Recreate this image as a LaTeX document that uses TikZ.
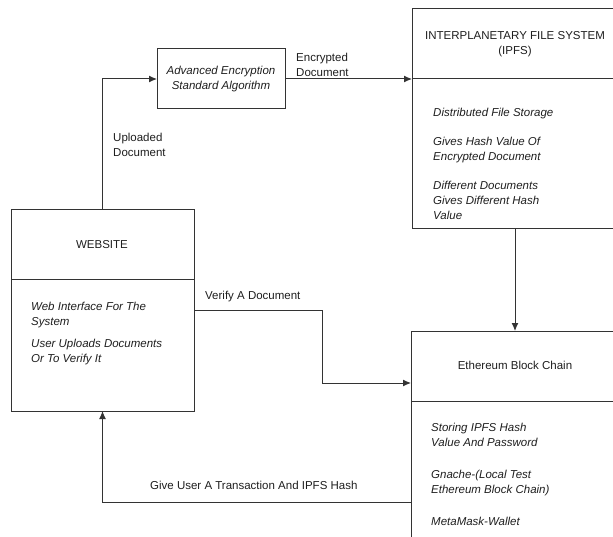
\documentclass[tikz,border=0pt]{standalone}
\usepackage{fontspec}
\setmainfont{Liberation Sans}
\usetikzlibrary{arrows.meta,calc}
\definecolor{linec}{HTML}{333333}
\definecolor{textc}{HTML}{1E1E1E}
\begin{document}
\begin{tikzpicture}[x=1pt,y=-1pt,
  every node/.style={text=textc, font=\fontsize{11.5}{15}\selectfont},
  box/.style={draw=linec, line width=1pt, inner sep=0pt, outer sep=0pt, anchor=north west},
  title/.style={align=center, inner sep=0pt},
  body/.style={align=left, inner sep=0pt, anchor=north west, font=\fontsize{11.5}{15}\selectfont\itshape},
  lbl/.style={align=left, inner sep=0pt, anchor=north west},
  conn/.style={draw=linec, line width=1pt},
  arr/.style={conn, -{Latex[length=8pt,width=7pt]}}
]
\useasboundingbox (0,0) rectangle (613,537);
\clip (0,0) rectangle (613,537);

% boxes
\node[box, minimum width=183pt, minimum height=201pt] (website) at (11,210) {};
\node[box, minimum width=128pt, minimum height=60pt] (aes) at (157,49) {};
\node[box, minimum width=240pt, minimum height=220pt] (ipfs) at (412,9) {};
\node[box, minimum width=240pt, minimum height=240pt] (eth) at (411,331) {};

% dividers
\draw[conn] ($(website.north west)+(0,70)$) -- ($(website.north east)+(0,70)$);
\draw[conn] ($(ipfs.north west)+(0,70)$) -- ($(ipfs.north east)+(0,70)$);
\draw[conn] ($(eth.north west)+(0,70)$) -- ($(eth.north east)+(0,70)$);

% titles
\node[title] (webtitle) at (102,245) {WEBSITE};
\node[title, font=\fontsize{11.5}{15}\selectfont\itshape] (aestext) at (221,79) {Advanced Encryption\\Standard Algorithm};
\node[title] (ipfstitle) at (515,44) {INTERPLANETARY FILE SYSTEM\\(IPFS)};
\node[title] (ethtitle) at (515,365) {Ethereum Block Chain};

% body texts
\node[body] (web1) at (31,302) {Web Interface For The\\System};
\node[body] (web2) at (31,339) {User Uploads Documents\\Or To Verify It};
\node[body] (ipfs1) at (433,108) {Distributed File Storage};
\node[body] (ipfs2) at (433,137) {Gives Hash Value Of\\Encrypted Document};
\node[body] (ipfs3) at (433,181) {Different Documents\\Gives Different Hash\\Value};
\node[body] (eth1) at (431,423) {Storing IPFS Hash\\Value And Password};
\node[body] (eth2) at (431,470) {Gnache-(Local Test\\Ethereum Block Chain)};
\node[body] (eth3) at (431,517) {MetaMask-Wallet};

% connector labels
\node[lbl] (lupload) at (113,133) {Uploaded\\Document};
\node[lbl] (lenc) at (296,53) {Encrypted\\Document};
\node[lbl] (lverify) at (205,291) {Verify A Document};
\node[lbl] (lgive) at (150,481) {Give User A Transaction And IPFS Hash};

% connectors
\draw[arr] (website.north) |- (aes.west);
\draw[arr] (aes.east) -- (aes.east -| ipfs.west);
\draw[arr] (ipfstitle |- ipfs.south) -- (ipfstitle |- eth.north);
\coordinate (vbend) at ($(website.east)+(128,0)$);
\coordinate (vin) at ($(eth.north west)+(0,52)$);
\draw[arr] (website.east) -- (vbend) |- (vin);
\coordinate (gout) at ($(eth.north west)+(0,171)$);
\draw[arr] (gout) -| (website.south);
\end{tikzpicture}
\end{document}
